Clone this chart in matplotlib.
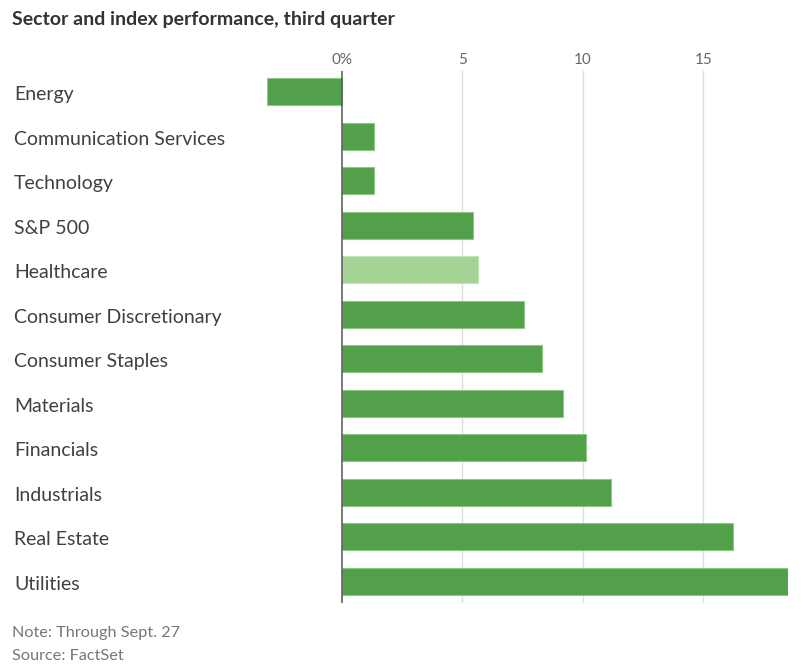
import matplotlib
matplotlib.use("Agg")
import matplotlib.pyplot as plt
import matplotlib.transforms as mtransforms

# Third-quarter performance by sector, percent
sectors = [
    "Energy", "Communication Services", "Technology", "S&P 500", "Healthcare",
    "Consumer Discretionary", "Consumer Staples", "Materials", "Financials",
    "Industrials", "Real Estate", "Utilities",
]
returns = [-3.11, 1.35, 1.35, 5.44, 5.65, 7.55, 8.3, 9.17, 10.15, 11.19, 16.25, 18.5]
highlight = "Healthcare"

tick_values = [0, 5, 10, 15]
tick_labels = ["0%", "5", "10", "15"]

plt.rcParams["font.family"] = ["Lato", "DejaVu Sans"]

W, H = 804, 664
fig = plt.figure(figsize=(W / 100, H / 100), dpi=100)
ax = fig.add_axes([266.7 / W, 1 - 603 / H, (787.7 - 266.7) / W, (603 - 71) / H])

colors = ["#a3d495" if s == highlight else "#52a049" for s in sectors]
edges = ["#c3e4b9" if s == highlight else "#8cc883" for s in sectors]
ypos = list(range(len(sectors)))
ax.barh(ypos, returns, height=0.61, color=colors, edgecolor=edges, linewidth=0.8, zorder=3)

ax.set_xlim(min(returns), max(returns))
ax.set_ylim(len(sectors) - 1 + 0.49, -0.47)

for v in tick_values:
    if v == 0:
        ax.axvline(v, color="#555555", linewidth=1.1, zorder=4)
    else:
        ax.axvline(v, color="#dddddd", linewidth=1.0, zorder=1)

ax.set_xticks(tick_values)
ax.set_xticklabels(tick_labels)
ax.xaxis.tick_top()
ax.tick_params(axis="x", length=0, pad=3, labelsize=11, labelcolor="#666666")
ax.set_yticks([])
for sp in ax.spines.values():
    sp.set_visible(False)

# category names in a column at the left edge of the figure
label_tf = mtransforms.blended_transform_factory(fig.transFigure, ax.transData)
label_tf = label_tf + mtransforms.ScaledTranslation(0, -3 / 100, fig.dpi_scale_trans)
for y, name in zip(ypos, sectors):
    ax.text(14 / W, y, name, transform=label_tf, ha="left", va="center",
            fontsize=14, color="#404040", clip_on=False)

fig.text(12 / W, 1 - 20 / H, "Sector and index performance, third quarter",
         ha="left", va="center", fontsize=14, fontweight="bold", color="#333333")
fig.text(12 / W, 1 - 633 / H, "Note: Through Sept. 27",
         ha="left", va="center", fontsize=11.7, color="#777777")
fig.text(12 / W, 1 - 656 / H, "Source: FactSet",
         ha="left", va="center", fontsize=11.7, color="#777777")

fig.savefig("out.png", dpi=100)
